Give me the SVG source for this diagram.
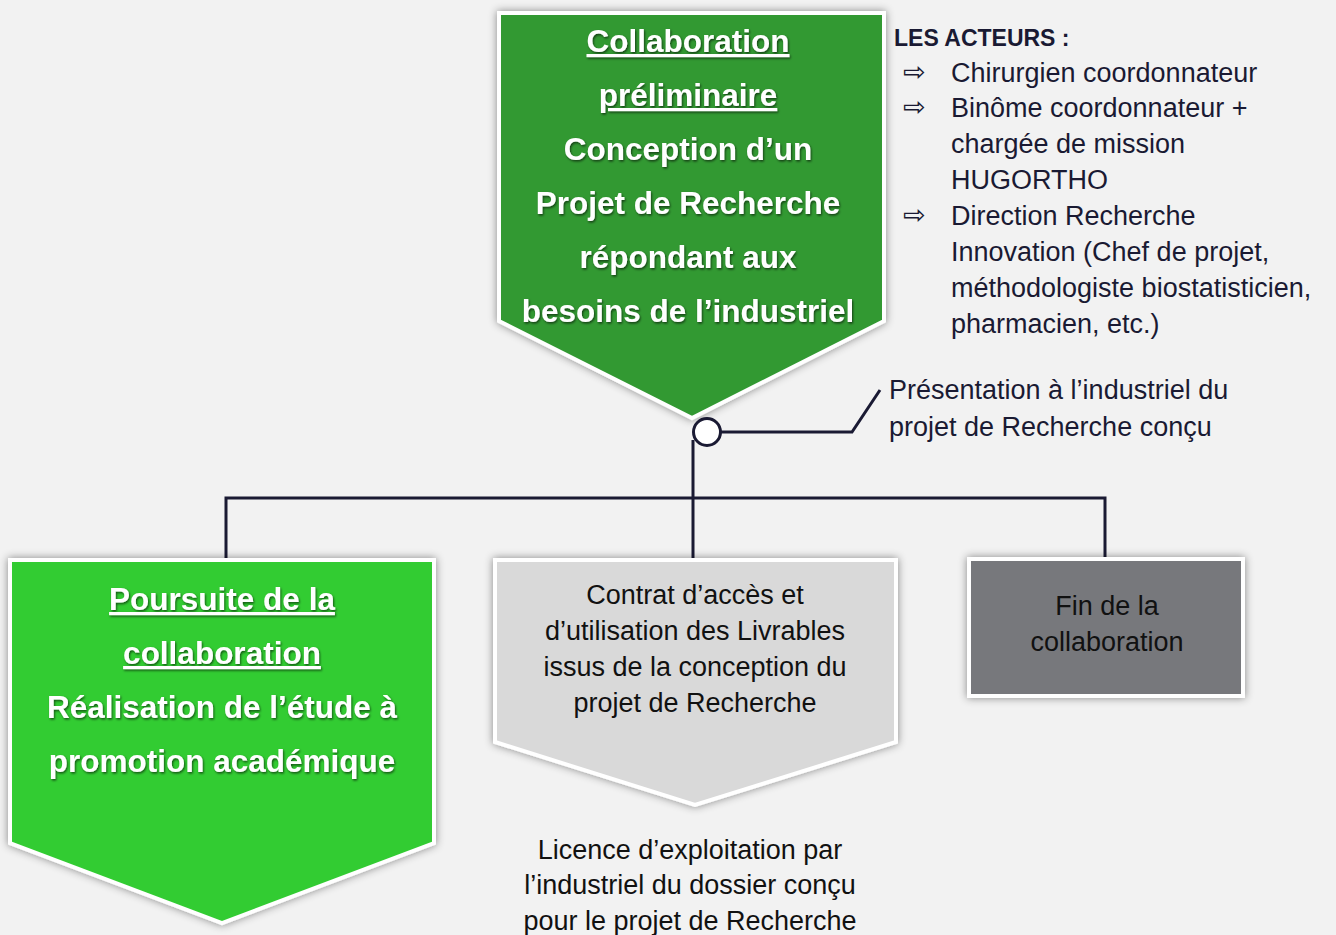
<svg xmlns="http://www.w3.org/2000/svg" width="1336" height="935" viewBox="0 0 1336 935">
<defs>
<filter id="sh" x="-10%" y="-10%" width="120%" height="120%">
<feDropShadow dx="0" dy="0" stdDeviation="4" flood-color="#000" flood-opacity="0.45"/>
</filter>
<filter id="tsh" x="-5%" y="-20%" width="110%" height="140%">
<feDropShadow dx="1" dy="1.5" stdDeviation="1" flood-color="#000" flood-opacity="0.6"/>
</filter>
</defs>
<style>
.box{stroke:#ffffff;stroke-width:4;stroke-linejoin:miter;filter:url(#sh)}
.bt{font-family:"Liberation Sans",Arial,sans-serif;font-weight:bold;font-size:31.5px;fill:#ffffff;text-anchor:middle;filter:url(#tsh)}
.u{text-decoration:underline}
.rt{font-family:"Liberation Sans",Arial,sans-serif;font-size:27px;fill:#111111;text-anchor:middle}
.at{font-family:"Liberation Sans",Arial,sans-serif;font-size:27px;fill:#1a1a33}
.ar{font-family:"DejaVu Sans",sans-serif;font-size:27px;fill:#1a1a33}
.con{fill:none;stroke:#1a1a33;stroke-width:3}
</style>
<rect x="0" y="0" width="1336" height="935" fill="#f2f2f2"/>

<g id="connectors">
<polyline class="con" points="226,560 226,498 1105,498 1105,558"/>
<line class="con" x1="693" y1="440" x2="693" y2="558"/>
<polyline class="con" points="721,432 852,432 880,390"/>
</g>

<g id="node-top">
<polygon class="box" fill="#339933" points="499,13 884,13 884,321 692,418 499,321"/>
<text class="bt u" x="688" y="52">Collaboration</text>
<text class="bt u" x="688" y="106">préliminaire</text>
<text class="bt" x="688" y="160">Conception d’un</text>
<text class="bt" x="688" y="214">Projet de Recherche</text>
<text class="bt" x="688" y="268">répondant aux</text>
<text class="bt" x="688" y="322">besoins de l’industriel</text>
</g>

<g id="junction">
<circle cx="707" cy="432" r="13.5" fill="#ffffff" stroke="#1a1a33" stroke-width="3"/>
</g>

<g id="actors">
<text x="894" y="46" font-family="Liberation Sans, Arial, sans-serif" font-weight="bold" font-size="23" fill="#1a1a33">LES ACTEURS :</text>
<text class="ar" x="903" y="81">⇨</text>
<text class="at" x="951" y="82">Chirurgien coordonnateur</text>
<text class="ar" x="903" y="116">⇨</text>
<text class="at" x="951" y="117">Binôme coordonnateur +</text>
<text class="at" x="951" y="153">chargée de mission</text>
<text class="at" x="951" y="189">HUGORTHO</text>
<text class="ar" x="903" y="224">⇨</text>
<text class="at" x="951" y="225">Direction Recherche</text>
<text class="at" x="951" y="261">Innovation (Chef de projet,</text>
<text class="at" x="951" y="297">méthodologiste biostatisticien,</text>
<text class="at" x="951" y="333">pharmacien, etc.)</text>
</g>

<g id="presentation">
<text class="at" x="889" y="399">Présentation à l’industriel du</text>
<text class="at" x="889" y="436">projet de Recherche conçu</text>
</g>

<g id="node-left">
<polygon class="box" fill="#33cc33" points="10,560 434,560 434,843 222,923 10,843"/>
<text class="bt u" x="222" y="610">Poursuite de la</text>
<text class="bt u" x="222" y="664">collaboration</text>
<text class="bt" x="222" y="718">Réalisation de l’étude à</text>
<text class="bt" x="222" y="772">promotion académique</text>
</g>

<g id="node-middle">
<polygon class="box" fill="#d9d9d9" points="495,560 896,560 896,742 695,805 495,742"/>
<text class="rt" x="695" y="604">Contrat d’accès et</text>
<text class="rt" x="695" y="640">d’utilisation des Livrables</text>
<text class="rt" x="695" y="676">issus de la conception du</text>
<text class="rt" x="695" y="712">projet de Recherche</text>
</g>

<g id="node-right">
<rect class="box" fill="#77787b" x="969" y="559" width="274" height="137"/>
<text class="rt" x="1107" y="615">Fin de la</text>
<text class="rt" x="1107" y="651">collaboration</text>
</g>

<g id="licence">
<text class="rt" x="690" y="859">Licence d’exploitation par</text>
<text class="rt" x="690" y="894">l’industriel du dossier conçu</text>
<text class="rt" x="690" y="930">pour le projet de Recherche</text>
</g>
</svg>
